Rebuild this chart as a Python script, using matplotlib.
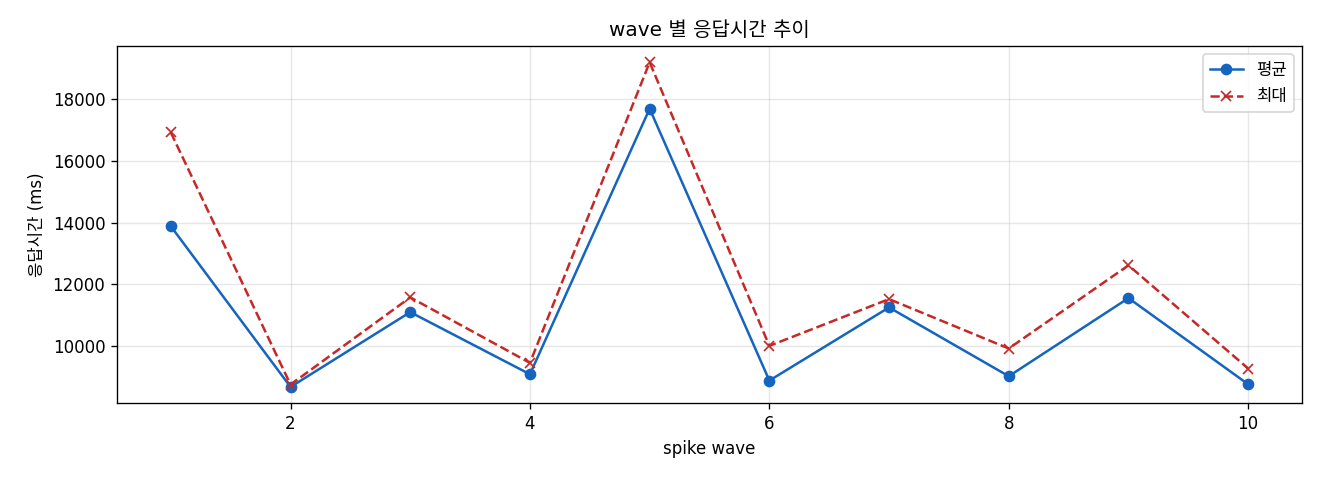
import matplotlib
matplotlib.use("Agg")
import matplotlib.pyplot as plt

plt.rcParams['font.family'] = ['DejaVu Sans', 'Noto Sans CJK KR']
plt.rcParams['axes.unicode_minus'] = False

waves = [1, 2, 3, 4, 5, 6, 7, 8, 9, 10]
avg_ms = [13880, 8681, 11102, 9092, 17681, 8888, 11254, 9028, 11556, 8768]
max_ms = [16913, 8758, 11578, 9460, 19182, 10010, 11523, 9925, 12615, 9277]

fig, ax = plt.subplots(figsize=(11, 4), dpi=120)
ax.plot(waves, avg_ms, marker='o', color='#1565C0', label='평균', markersize=6)
ax.plot(waves, max_ms, marker='x', linestyle='--', color='#C62828', label='최대', markersize=6)
ax.set_title('wave 별 응답시간 추이')
ax.set_xlabel('spike wave')
ax.set_ylabel('응답시간 (ms)')
ax.grid(True, alpha=0.3)
ax.legend(loc='upper right')
fig.subplots_adjust(left=0.0886, right=0.9864, top=0.904, bottom=0.160)
fig.savefig('out.png')
